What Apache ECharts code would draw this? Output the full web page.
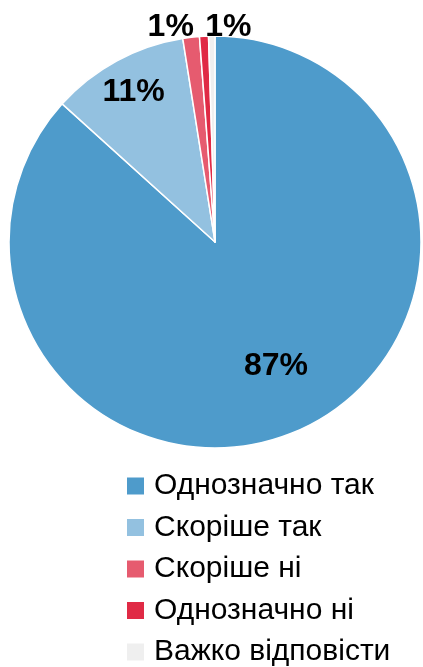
<!DOCTYPE html>
<html><head><meta charset="utf-8">
<script src="https://cdn.jsdelivr.net/npm/echarts@6/dist/echarts.min.js"></script>
<style>html,body{margin:0;padding:0;background:#fff}#c{width:423px;height:667px}</style>
</head><body><div id="c"></div>
<script>
const categories = ['Однозначно так', 'Скоріше так', 'Скоріше ні', 'Однозначно ні', 'Важко відповісти'];
const values = [86.7, 10.8, 1.3, 0.7, 0.5];
const labels = ['87%', '11%', '1%', '1%', ''];
const colors = ['#4E9BCB', '#93C1E0', '#E65B6F', '#E02A45', '#EFEFEF'];
const labelOffsets = [[18, 27], [-31, -57], [-32, -110], [19, -109], [0, 0]];

const font = '"Liberation Sans", Arial, sans-serif';
const chart = echarts.init(document.getElementById('c'));
chart.setOption({
  animation: false,
  backgroundColor: '#fff',
  legend: {
    orient: 'vertical',
    left: 125,
    top: 471,
    height: 300,
    padding: 0,
    itemWidth: 19,
    itemHeight: 19,
    itemGap: 11.5,
    icon: 'rect',
    data: categories,
    textStyle: { fontFamily: font, fontSize: 30, lineHeight: 30, color: '#000', padding: [0, 0, 0, 4] }
  },
  series: [{
    type: 'pie',
    center: [215, 242],
    radius: [0, 206],
    startAngle: 90,
    clockwise: true,
    itemStyle: { borderColor: '#fff', borderWidth: 1.5 },
    labelLine: { show: false },
    emphasis: { disabled: true },
    data: categories.map((n, i) => ({
      name: n,
      value: values[i],
      itemStyle: { color: colors[i] },
      label: {
        show: labels[i] !== '',
        position: 'inside',
        formatter: labels[i],
        offset: labelOffsets[i],
        fontFamily: font,
        fontWeight: 'bold',
        fontSize: 32,
        color: '#000'
      }
    }))
  }]
});
</script></body></html>
